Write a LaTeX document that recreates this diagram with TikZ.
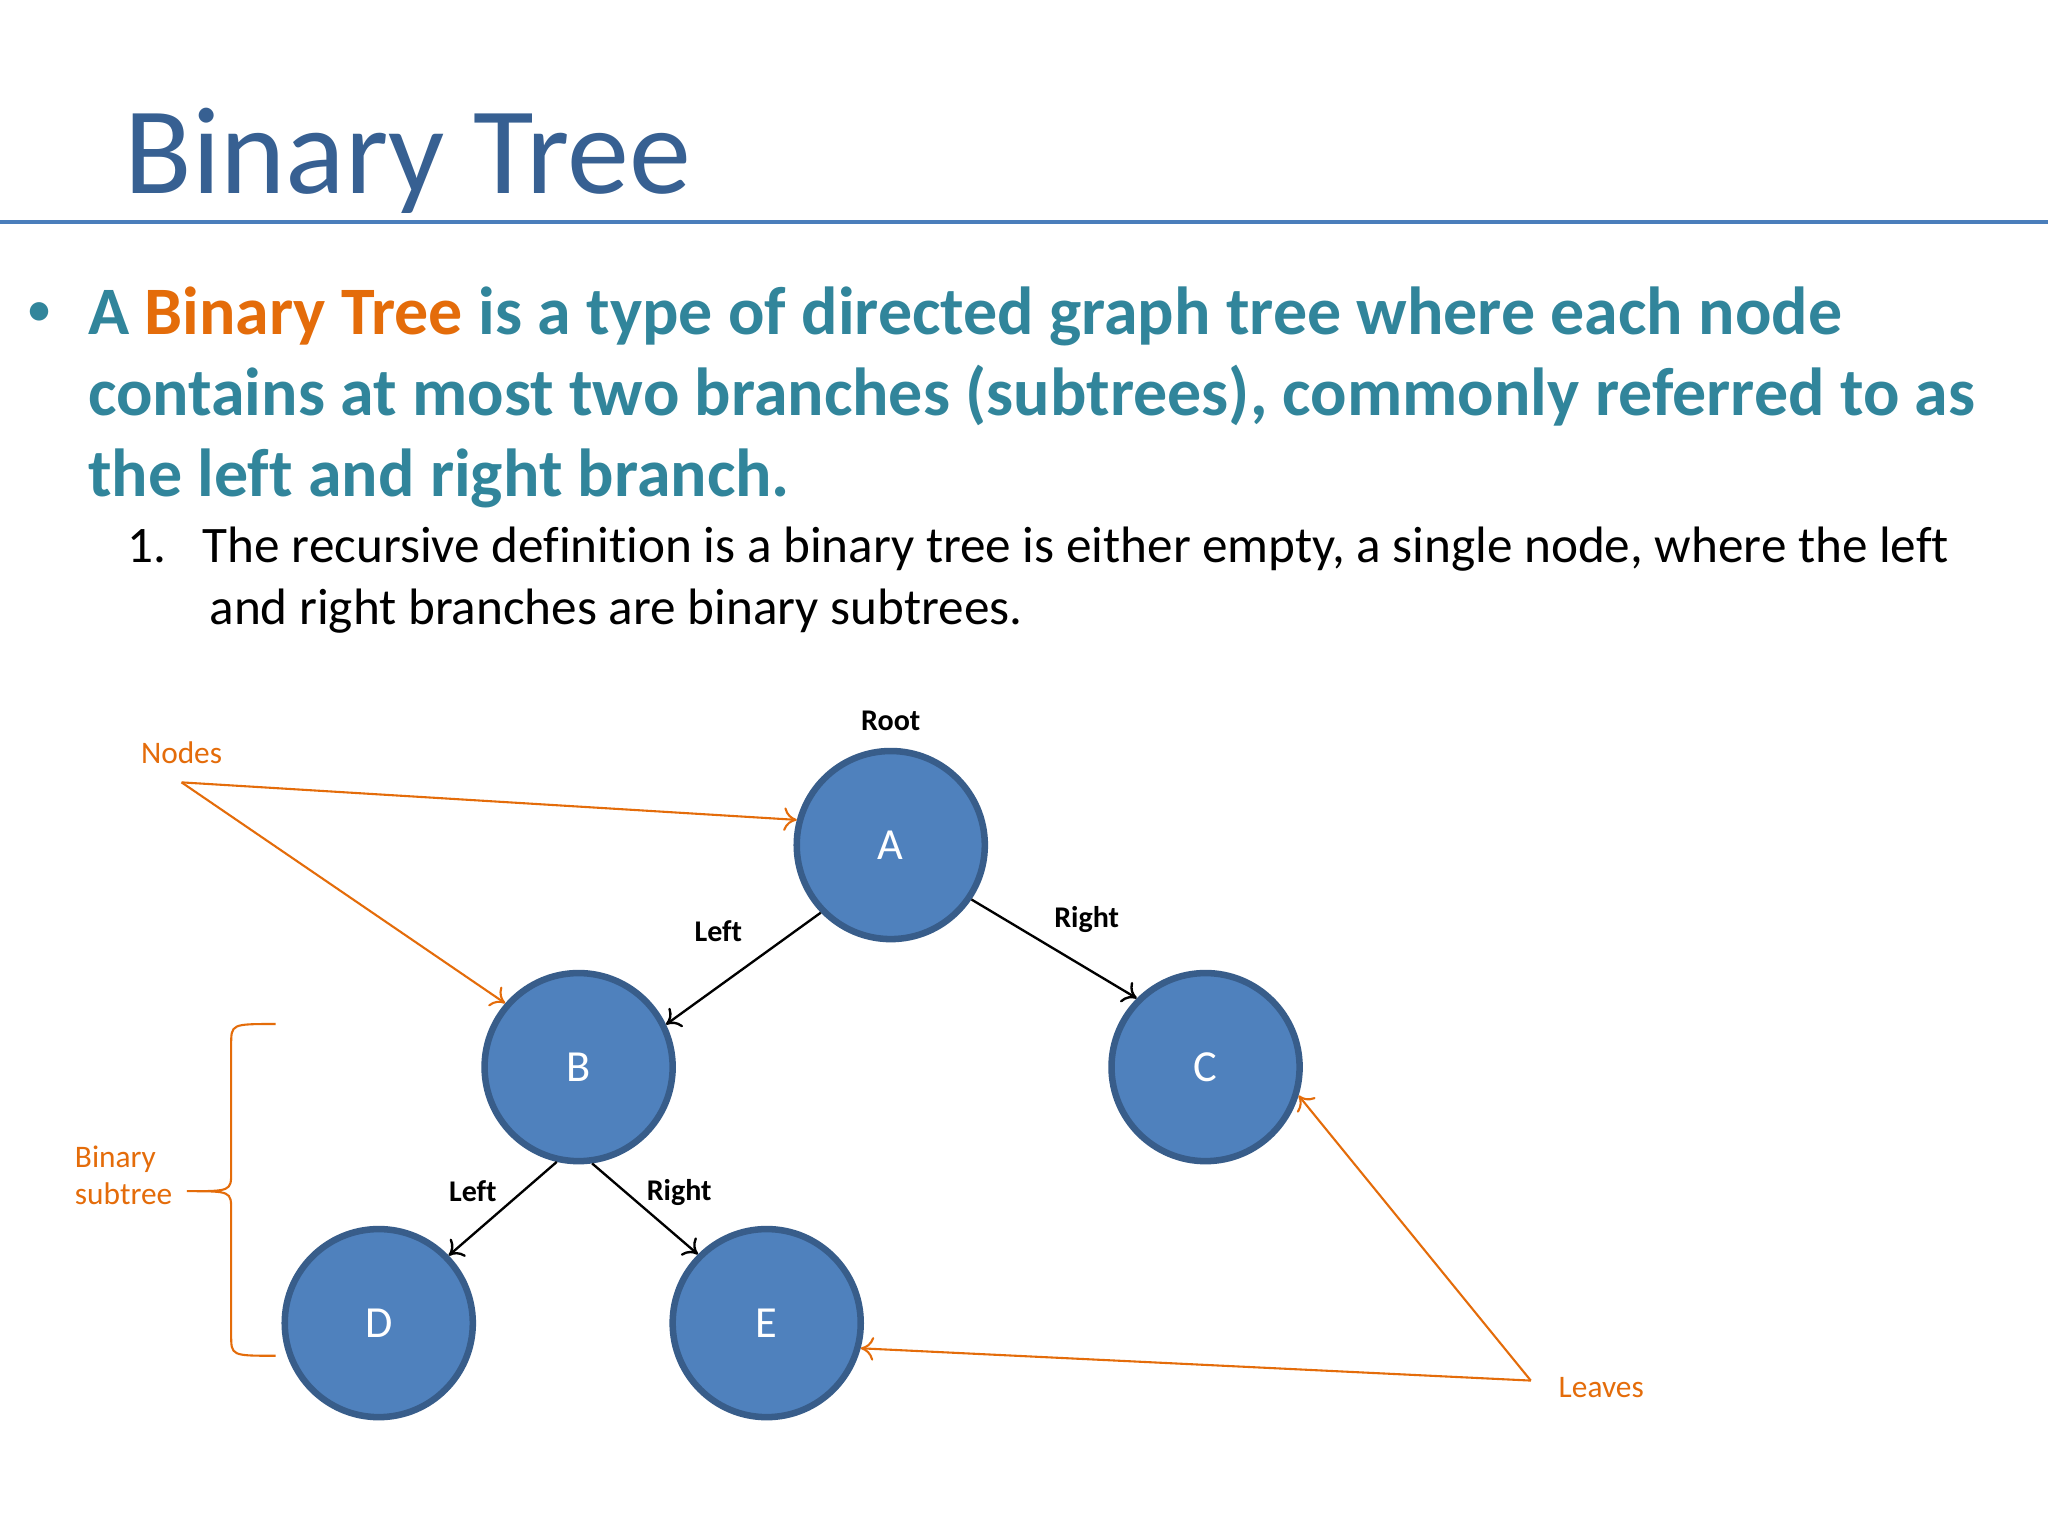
\documentclass[tikz,border=0pt]{standalone}
\usepackage{fontspec}
\setmainfont{Carlito}[Ligatures=NoCommon]
\usetikzlibrary{arrows.meta}
\definecolor{titleblue}{RGB}{55,96,146}
\definecolor{lineblue}{RGB}{74,126,187}
\definecolor{teal}{RGB}{49,133,155}
\definecolor{orng}{RGB}{228,108,10}
\definecolor{fillb}{RGB}{79,129,189}
\definecolor{edgeb}{RGB}{56,93,138}
\tikzset{
 tnode/.style={circle,fill=fillb,draw=edgeb,line width=2.5pt,minimum size=72pt,inner sep=0pt,text=white,font=\fontsize{17}{20}\selectfont},
 blk/.style={-{To[length=5pt,width=9pt]},line width=0.9pt,black},
 org/.style={-{To[length=5pt,width=9pt]},line width=0.8pt,orng},
 lbl/.style={font=\bfseries\fontsize{11.5}{14}\selectfont},
 olbl/.style={font=\fontsize{12}{14}\selectfont,text=orng,inner sep=0pt},
 bul/.style={anchor=base west,inner sep=0pt,text=teal,font=\bfseries\fontsize{26}{31}\selectfont},
 num/.style={anchor=base west,inner sep=0pt,font=\fontsize{19.6}{24}\selectfont},
}
\begin{document}
\begin{tikzpicture}[x=0.5pt,y=-0.5pt]
\useasboundingbox[fill=white] (0,0) rectangle (1568,1176);
\node[anchor=base west,inner sep=0pt,text=titleblue,font=\fontsize{47.5}{55}\selectfont] (title) at (95,148) {Binary Tree};
\draw[lineblue,line width=1.5pt] (0,170) -- (1568,170);
\node[anchor=base west,inner sep=0pt,text=teal,font=\fontsize{20}{24}\selectfont] (dot) at (20,250) {•};
\node[bul] (l1) at (67,256) {A \textcolor{orng}{Binary Tree} is a type of directed graph tree where each node};
\node[bul] (l2) at (67,318) {contains at most two branches (subtrees), commonly referred to as};
\node[bul] (l3) at (67,380) {the left and right branch.};
\node[num] (n1) at (97,431) {1.};
\node[num] (n2) at (155,431) {The recursive definition is a binary tree is either empty, a single node, where the left};
\node[num] (n3) at (160,478) {and right branches are binary subtrees.};

\node[tnode] (A) at (682,647) {A};
\node[tnode] (B) at (443,817) {B};
\node[tnode] (C) at (923,817) {C};
\node[tnode] (D) at (290,1013) {D};
\node[tnode] (E) at (587,1013) {E};
\draw[blk] (A.-136) -- (B.26);
\draw[blk] (A.-34) -- (C.135);
\draw[blk] (B.-103) -- (D.44);
\draw[blk] (B.-82) -- (E.135);
\node[lbl] (root) at (682,552) {Root};
\node[lbl] (la) at (550,713) {Left};
\node[lbl] (ra) at (832,704) {Right};
\node[lbl] (lb) at (362,912) {Left};
\node[lbl] (rb) at (520,913) {Right};

\node[olbl] (nodes) at (139,576) {Nodes};
\coordinate (nf) at (139,599);
\draw[org] (nf) -- (A.165);
\draw[org] (nf) -- (B.139);
\node[olbl,anchor=west] (leaves) at (1193,1062) {Leaves};
\coordinate (lf) at (1172,1057);
\draw[org] (lf) -- (C.-17);
\draw[org] (lf) -- (E.-15);
\node[olbl,anchor=west,align=left] (bs) at (57,900) {Binary\\subtree};
\draw[orng,line width=0.8pt] (211,784) .. controls (177,784) .. (177,800) -- (177,897) .. controls (177,912) .. (143,912) .. controls (177,912) .. (177,927) -- (177,1022) .. controls (177,1038) .. (211,1038);
\end{tikzpicture}
\end{document}
